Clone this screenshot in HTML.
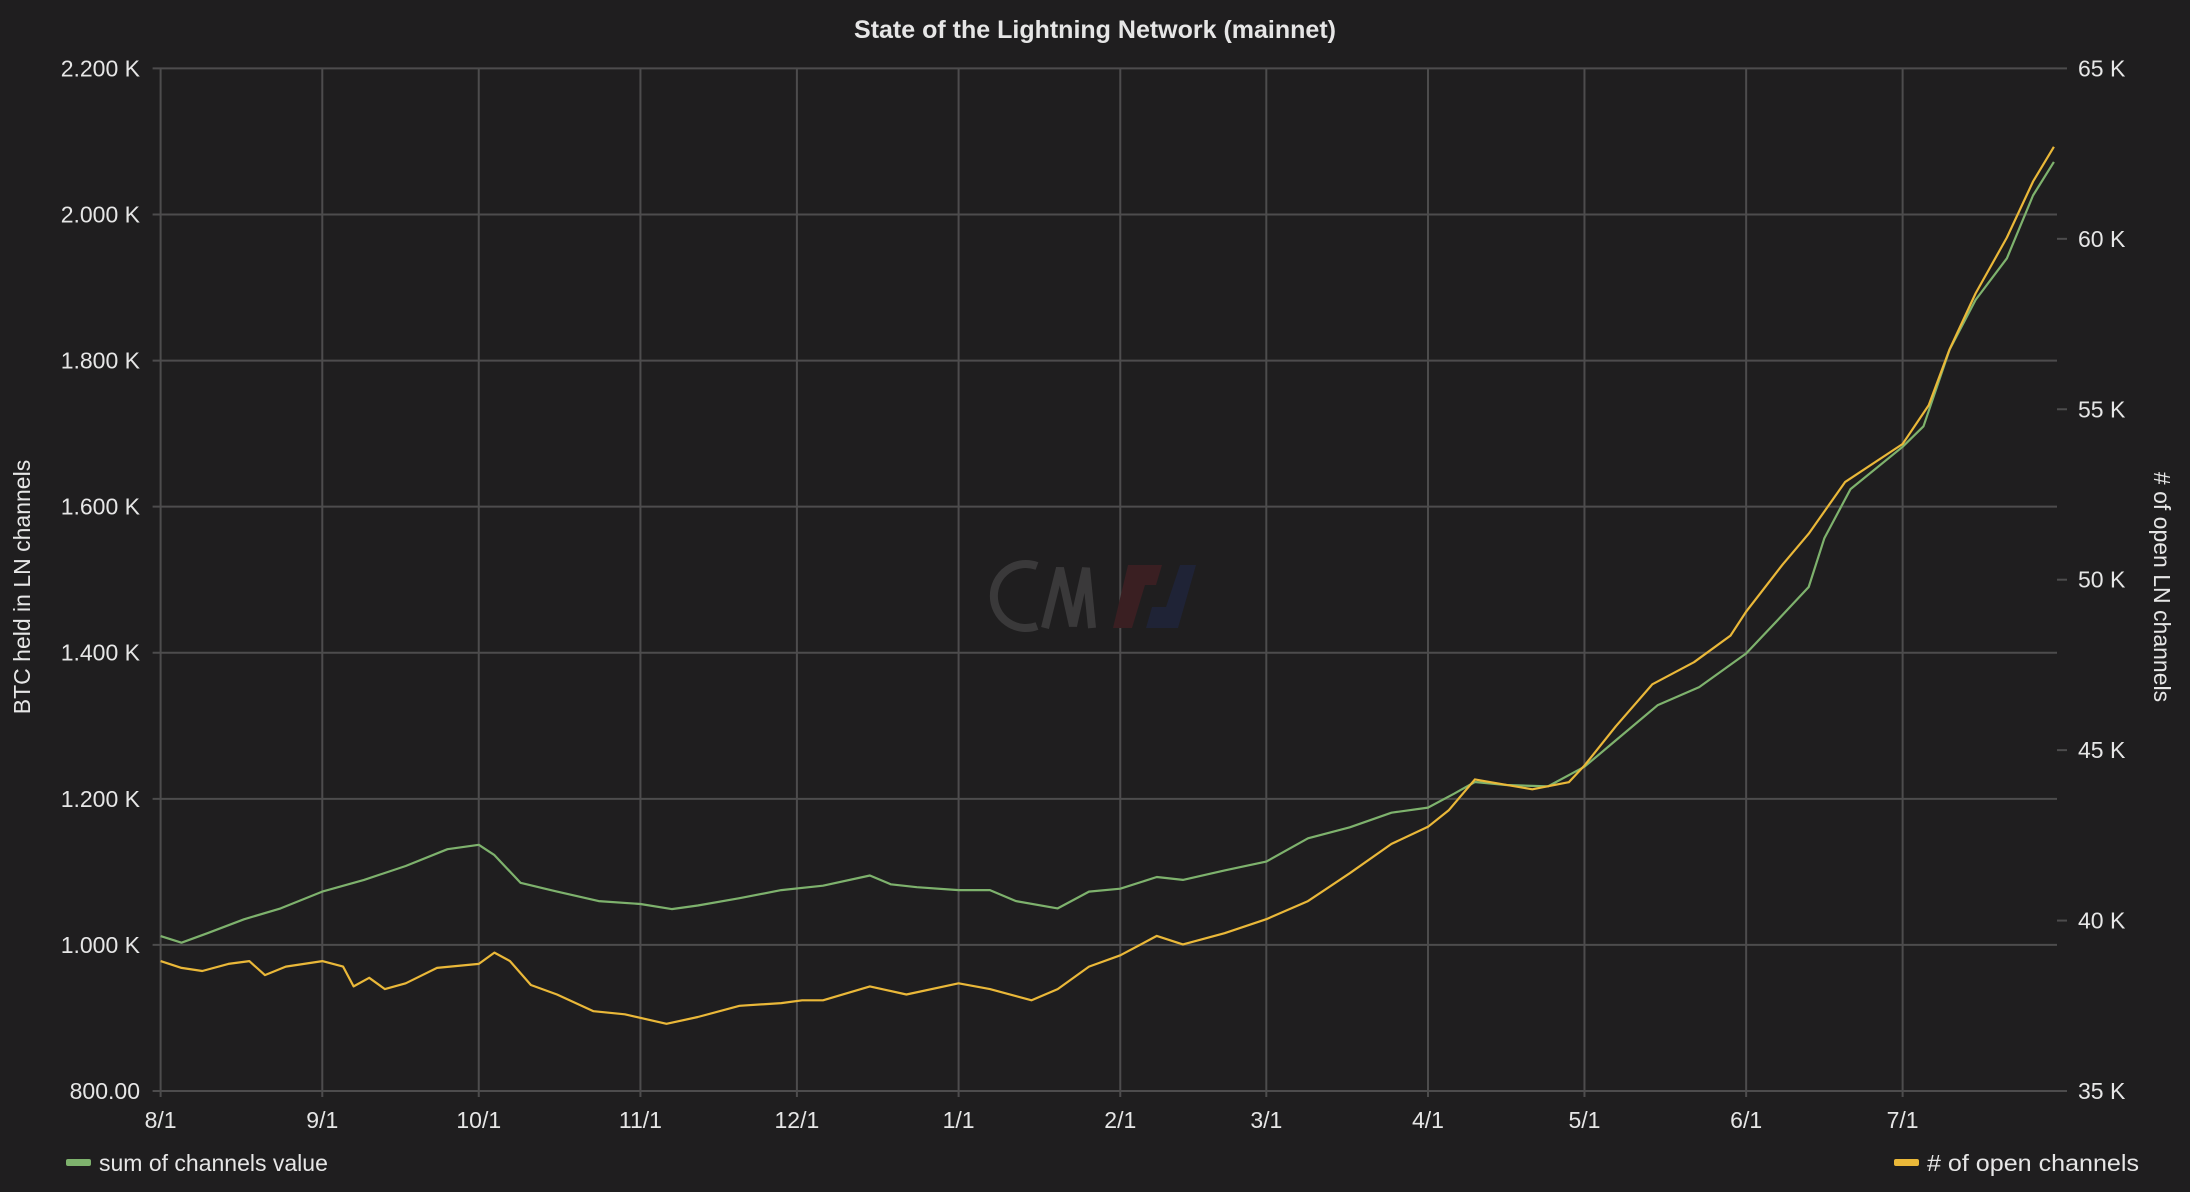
<!DOCTYPE html>
<html><head><meta charset="utf-8"><style>
html,body{margin:0;padding:0;background:#1f1e1f;}
svg{display:block;font-family:"Liberation Sans",sans-serif;}
</style></head><body>
<svg id="chart" width="2190" height="1192" viewBox="0 0 2190 1192" xmlns="http://www.w3.org/2000/svg">
<rect x="0" y="0" width="2190" height="1192" fill="#1f1e1f"/>
<text x="1095" y="38" text-anchor="middle" fill="#e6e6e6" font-size="25" font-weight="bold">State of the Lightning Network (mainnet)</text>
<g id="grid"></g>
<g id="watermark">
<path d="M1037,566 A32,32 0 1 0 1037,626" fill="none" stroke="#3a393a" stroke-width="8"/>
<path d="M1045,628 L1060,568 L1073,626 L1086,568 L1092,628" fill="none" stroke="#3a393a" stroke-width="8"/>
<polygon points="1128,565 1162,565 1156,585 1145,585 1132,628 1113,628" fill="#3a1f22"/>
<polygon points="1180,565 1196,565 1178,628 1146,628 1152,607 1166,607" fill="#1f2336"/>
</g>
<g id="axes"></g>
<g id="series"></g>
<text transform="translate(30,587) rotate(-90)" text-anchor="middle" fill="#e6e6e6" font-size="23">BTC held in LN channels</text>
<text transform="translate(2154,587) rotate(90)" text-anchor="middle" fill="#e6e6e6" font-size="23"># of open LN channels</text>
<g>
<rect x="66" y="1159" width="25" height="7" rx="2" fill="#7eb26d"/>
<text x="99" y="1171" fill="#e6e6e6" font-size="23">sum of channels value</text>
</g>
<g>
<rect x="1894" y="1159" width="25" height="7" rx="2" fill="#eab839"/>
<text x="1927" y="1171" fill="#e6e6e6" font-size="23" textLength="212" lengthAdjust="spacingAndGlyphs"># of open channels</text>
</g>
</svg>
<script>
const xTickLabels = ["8/1","9/1","10/1","11/1","12/1","1/1","2/1","3/1","4/1","5/1","6/1","7/1"];
const xTickDays = [0,31,61,92,122,153,184,212,243,273,304,334];
const leftTicks = [800,1000,1200,1400,1600,1800,2000,2200];
const leftTickLabels = ["800.00","1.000 K","1.200 K","1.400 K","1.600 K","1.800 K","2.000 K","2.200 K"];
const rightTicks = [35,40,45,50,55,60,65];
const rightTickLabels = ["35 K","40 K","45 K","50 K","55 K","60 K","65 K"];
const sumDays = [0,4,9,16,23,31,39,47,55,61,64,69,76,84,92,98,103,111,119,127,136,140,145,153,159,164,172,178,184,191,196,204,212,220,228,236,243,248,252,258,266,273,279,287,295,304,311,316,319,324,334,338,343,348,354,359,363];
const sumValues = [1012,1003,1016,1035,1050,1073,1089,1108,1131,1137,1123,1085,1073,1060,1056,1049,1054,1064,1075,1081,1095,1083,1079,1075,1075,1060,1050,1073,1077,1093,1089,1102,1114,1146,1161,1181,1188,1207,1223,1219,1217,1244,1280,1328,1353,1399,1452,1490,1557,1624,1682,1710,1815,1883,1940,2026,2072];
const chDays = [0,4,8,13,17,20,24,31,35,37,40,43,47,53,61,64,67,71,76,83,89,97,103,111,119,123,127,136,143,153,159,167,172,178,184,191,196,204,212,220,228,236,243,247,252,255,263,270,273,279,286,294,301,304,311,316,323,334,339,343,348,354,359,363];
const chValues = [38.81,38.61,38.52,38.73,38.81,38.40,38.65,38.81,38.65,38.07,38.32,37.99,38.16,38.61,38.73,39.06,38.81,38.11,37.83,37.34,37.25,36.97,37.17,37.50,37.58,37.66,37.66,38.07,37.83,38.16,37.99,37.66,37.99,38.65,38.98,39.55,39.30,39.63,40.04,40.57,41.39,42.25,42.75,43.24,44.14,44.06,43.85,44.06,44.55,45.70,46.93,47.58,48.36,49.06,50.45,51.35,52.87,53.98,55.12,56.76,58.40,60.04,61.68,62.70];

const NS="http://www.w3.org/2000/svg";
const L=160.6,R=2057,T=68.4,B=1091,DMAX=363.6;
const xS=d=>L+(d/DMAX)*(R-L);
const yL=v=>B-(v-800)/1400*(B-T);
const yR=v=>B-(v-35)/30*(B-T);
function mk(tag,attrs,parent){const e=document.createElementNS(NS,tag);for(const k in attrs)e.setAttribute(k,attrs[k]);parent.appendChild(e);return e;}
const grid=document.getElementById('grid'),axes=document.getElementById('axes'),series=document.getElementById('series');
leftTicks.forEach((v,i)=>{
  const y=yL(v);
  const ln=mk('line',{x1:L-8,x2:R,y1:y,y2:y,stroke:'#4d4c4d','stroke-width':2},grid);
  
  
  const t=mk('text',{x:140,y:y+8,'text-anchor':'end',fill:'#e6e6e6','font-size':23},axes);
  t.textContent=leftTickLabels[i];
  
  
});
rightTicks.forEach((v,i)=>{
  const y=yR(v);
  const tk=mk('line',{x1:R,x2:R+10,y1:y,y2:y,stroke:'#4d4c4d','stroke-width':2},axes);
  
  
  const t=mk('text',{x:2078,y:y+8,fill:'#e6e6e6','font-size':23},axes);
  t.textContent=rightTickLabels[i];
  
  
});
xTickDays.forEach((d,i)=>{
  const x=xS(d);
  const ln=mk('line',{x1:x,x2:x,y1:T,y2:B+6,stroke:'#4d4c4d','stroke-width':2},grid);
  
  
  const t=mk('text',{x:x,y:1128,'text-anchor':'middle',fill:'#e6e6e6','font-size':23},axes);
  t.textContent=xTickLabels[i];
  
  
});
function line(days,vals,ys,color){
  let d='';days.forEach((dd,i)=>{d+=(i?'L':'M')+xS(dd).toFixed(1)+','+ys(vals[i]).toFixed(1);});
  return mk('path',{d:d,fill:'none',stroke:color,'stroke-width':2.2,'stroke-linejoin':'round'},series);
}
const p1=line(sumDays,sumValues,yL,'#7eb26d');


const p2=line(chDays,chValues,yR,'#eab839');


</script>
</body></html>
